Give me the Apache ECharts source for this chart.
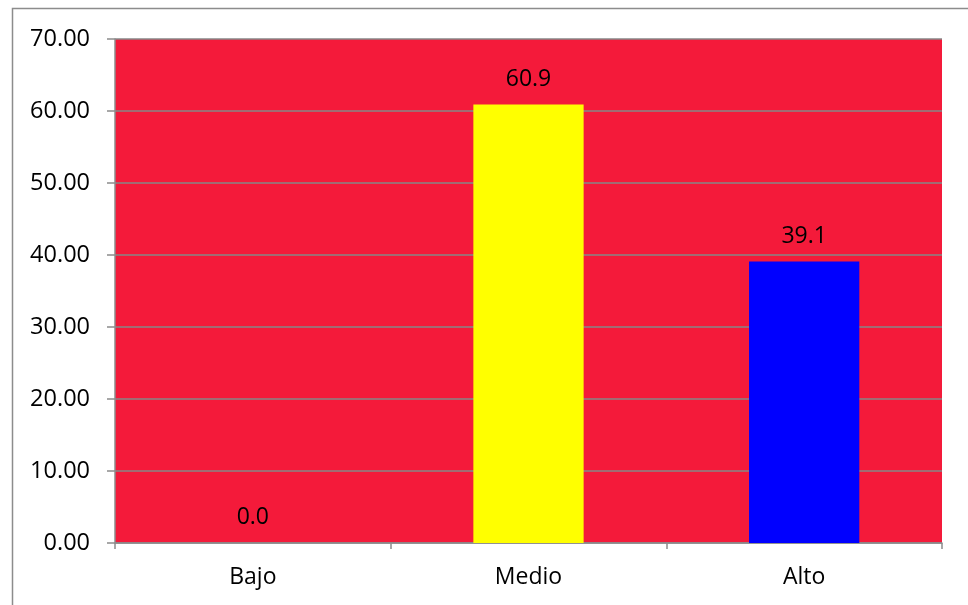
<!DOCTYPE html>
<html>
<head>
<meta charset="utf-8">
<script src="https://cdn.jsdelivr.net/npm/echarts@6/dist/echarts.min.js"></script>
<style>
  html, body { margin: 0; padding: 0; background: #ffffff; }
  #chart { width: 968px; height: 605px; }
</style>
</head>
<body>
<div id="chart"></div>
<script>
// Categories and percentages per level
const categories = ['Bajo', 'Medio', 'Alto'];
const values = [0.0, 60.9, 39.1];
const barColors = ['#F41A3A', '#FFFF00', '#0000FF'];

const FONT = '"Open Sans", "Liberation Sans", sans-serif';

const chart = echarts.init(document.getElementById('chart'), null, { renderer: 'canvas' });

chart.setOption({
  backgroundColor: '#ffffff',
  animation: false,
  graphic: [{
    type: 'rect',
    shape: { x: 12.5, y: 8.5, width: 1000, height: 1000 },
    style: { fill: 'none', stroke: '#8c8c8c', lineWidth: 1.5 },
    z: -1
  }],
  grid: {
    left: 115, top: 39, right: 26, bottom: 62,
    show: true,
    backgroundColor: '#F41A3A',
    borderWidth: 0
  },
  xAxis: {
    type: 'category',
    data: categories,
    axisLine: { lineStyle: { color: '#8c8c8c', width: 1.5 } },
    axisTick: { show: true, alignWithLabel: false, length: 6, lineStyle: { color: '#8c8c8c', width: 1.5 } },
    axisLabel: { color: '#000', fontFamily: FONT, fontSize: 23, margin: 23 }
  },
  yAxis: {
    type: 'value',
    min: 0, max: 70, interval: 10,
    axisLine: { show: true, lineStyle: { color: '#8c8c8c', width: 1.5 } },
    axisTick: { show: true, length: 8, lineStyle: { color: '#8c8c8c', width: 1.5 } },
    splitLine: { show: true, lineStyle: { color: '#878787', width: 1.5 } },
    axisLabel: {
      color: '#000', fontFamily: FONT, fontSize: 23.5, margin: 25,
      formatter: v => v.toFixed(2)
    }
  },
  series: [{
    type: 'bar',
    barWidth: '40%',
    data: values.map((v, i) => ({ value: v, itemStyle: { color: barColors[i] } })),
    label: {
      show: true, position: 'top', distance: 14,
      color: '#000', fontFamily: FONT, fontSize: 23,
      formatter: p => p.value.toFixed(1)
    }
  }]
});
</script>
</body>
</html>
